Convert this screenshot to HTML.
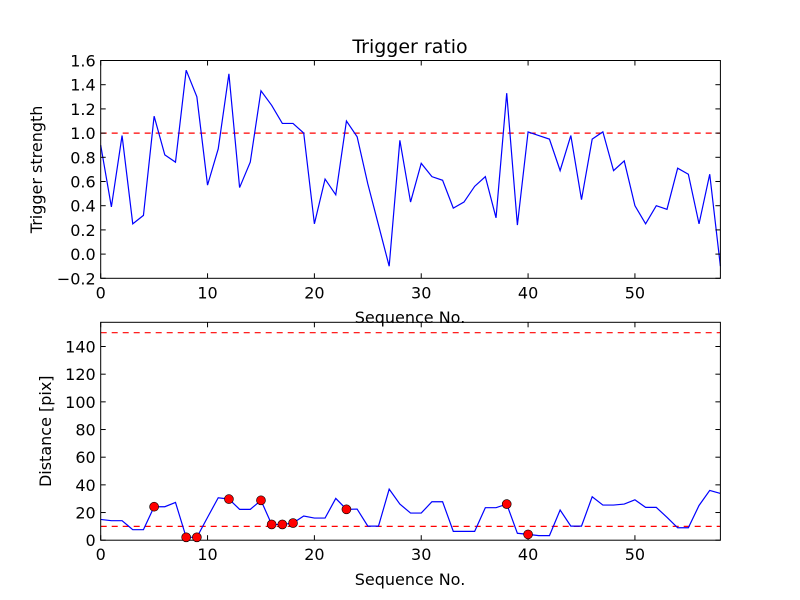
<!DOCTYPE html>
<html><head><meta charset="utf-8"><style>body{margin:0;background:#fff}svg{display:block}text{font-family:"DejaVu Sans","Liberation Sans",sans-serif;font-size:16px;fill:#000}</style></head>
<body>
<svg id="chart" width="800" height="600"></svg>
<script>
const xs = Array.from({length:59},(_,i)=>i);
const ratio = [0.90,0.39,0.98,0.25,0.32,1.14,0.82,0.76,1.52,1.30,0.57,0.87,1.49,0.55,0.76,1.35,1.23,1.08,1.08,1.00,0.25,0.62,0.49,1.10,0.97,0.58,0.24,-0.10,0.94,0.43,0.75,0.64,0.61,0.38,0.43,0.56,0.64,0.30,1.33,0.24,1.01,0.98,0.95,0.69,0.98,0.45,0.95,1.01,0.69,0.77,0.40,0.25,0.40,0.37,0.71,0.66,0.25,0.66,-0.10];
const dist = [15.0,14.1,14.1,7.6,7.6,24.2,24.2,27.3,2.1,2.1,16.5,30.7,29.7,22.3,22.3,28.8,11.4,11.4,12.4,17.5,16.0,16.0,30.2,22.3,22.5,10.2,10.2,36.9,26.1,19.6,19.6,27.8,27.8,6.4,6.4,6.4,23.5,23.5,26.1,5.0,4.2,3.3,3.3,21.8,10.2,10.2,31.4,25.4,25.4,26.1,29.2,23.7,23.7,16.5,9.0,9.0,25.1,36.0,33.8];
const markerIdx = [5,8,9,12,15,16,17,18,23,38,40];
const xTicks = [0,10,20,30,40,50];
const topYTicks = [-0.2,0.0,0.2,0.4,0.6,0.8,1.0,1.2,1.4,1.6];
const botYTicks = [0,20,40,60,80,100,120,140];
const topRef = [1.0];
const botRef = [10,150];

const NS='http://www.w3.org/2000/svg', svg=document.getElementById('chart');
function el(t,a,p){const e=document.createElementNS(NS,t);for(const k in a)e.setAttribute(k,a[k]);(p||svg).appendChild(e);return e;}
const L=100.7,R=720.4;
const sx=v=>L+(v-0)/(58-0)*(R-L);
function panel(top,bot,ymin,ymax,name){
  const sy=v=>bot-(v-ymin)/(ymax-ymin)*(bot-top);
  const g=el('g',{});
  
  
  return {sy,g};
}
function axes(p,top,bot,yTicks,fmt,ylabel,ylx,xlabelY,name,refs,data){
  const {sy,g}=p;
  refs.forEach(r=>{const l=el('line',{x1:L,x2:R,y1:sy(r),y2:sy(r),stroke:'#ff0000','stroke-width':1.2,'stroke-dasharray':'6,5'},g);
    
    });
  const d=data.map((v,i)=>(i?'L':'M')+sx(xs[i]).toFixed(2)+','+sy(v).toFixed(2)).join('');
  const pl=el('path',{d:d,fill:'none',stroke:'#0000ff','stroke-width':1.2},g);
  
  
  const f=el('rect',{x:L,y:top,width:R-L,height:bot-top,fill:'none',stroke:'#000','stroke-width':1},g);
  
  
  xTicks.forEach(t=>{const x=sx(t);
    el('line',{x1:x,x2:x,y1:bot,y2:bot-5,stroke:'#000'},g);
    el('line',{x1:x,x2:x,y1:top,y2:top+5,stroke:'#000'},g);
    const tx=el('text',{x:x,y:bot+20,'text-anchor':'middle'},g);tx.textContent=t;
    
    });
  yTicks.forEach(t=>{const y=sy(t);
    el('line',{x1:L,x2:L+5,y1:y,y2:y,stroke:'#000'},g);
    el('line',{x1:R,x2:R-5,y1:y,y2:y,stroke:'#000'},g);
    const tx=el('text',{x:L-5,y:y+6,'text-anchor':'end'},g);tx.textContent=fmt(t);
    
    });
  const xl=el('text',{x:410,y:xlabelY,'text-anchor':'middle'},g);xl.textContent='Sequence No.';
  
  
  const yc=(top+bot)/2;
  const yl=el('text',{x:ylx,y:yc,'text-anchor':'middle',transform:`rotate(-90 ${ylx} ${yc})`},g);yl.textContent=ylabel;
  
  
}
const pt=panel(60.5,278.3,-0.2,1.6,'top-panel');
axes(pt,60.5,278.3,topYTicks,v=>v.toFixed(1).replace('-','\u2212'),'Trigger strength',42,323,'ratio',topRef,ratio);
const pb=panel(322.3,540.2,0,157.5,'bottom-panel');
axes(pb,322.3,540.2,botYTicks,v=>String(v),'Distance [pix]',51,585,'distance',botRef,dist);
markerIdx.forEach(i=>{const c=el('circle',{cx:sx(xs[i]),cy:pb.sy(dist[i]),r:4.5,fill:'#ff0000',stroke:'#000','stroke-width':0.6},pb.g);
  
  });
const t=el('text',{x:410,y:53,'text-anchor':'middle',style:'font-size:19px'});t.textContent='Trigger ratio';


</script>
</body></html>
